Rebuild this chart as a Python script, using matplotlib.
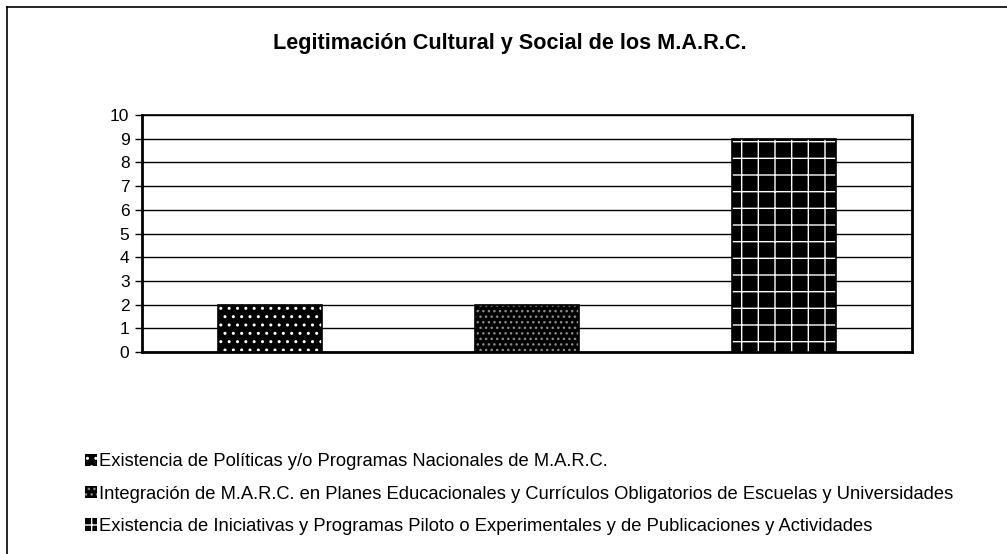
import matplotlib
matplotlib.use("Agg")
import matplotlib.pyplot as plt
from matplotlib.lines import Line2D

plt.rcParams['font.family'] = ['Liberation Sans', 'DejaVu Sans']

title = "Legitimación Cultural y Social de los M.A.R.C."
series_labels = [
    "Existencia de Políticas y/o Programas Nacionales de M.A.R.C.",
    "Integración de M.A.R.C. en Planes Educacionales y Currículos Obligatorios de Escuelas y Universidades",
    "Existencia de Iniciativas y Programas Piloto o Experimentales y de Publicaciones y Actividades",
]
series_values = [2, 2, 9]
y_ticks = list(range(0, 11))

hatches = ['..', '...', '+']
hatch_colors = ['white', '#8a8a8a', 'white']

fig = plt.figure(figsize=(10.07, 5.54), dpi=100)
ax = fig.add_axes([0.141, 0.3646, 0.7646, 0.4278])

plt.rcParams['hatch.linewidth'] = 1.0
handles = []
for i, (lab, val, h, hc) in enumerate(zip(series_labels, series_values,
                                          hatches, hatch_colors)):
    b = ax.bar(i, val, width=0.405, color='black', edgecolor=hc,
               hatch=h, linewidth=0, zorder=3, label=lab)
    ax.bar(i, val, width=0.405, fill=False, edgecolor='black',
           linewidth=1.2, zorder=4)
    handles.append(b)

ax.set_xlim(-0.5, 2.5)
ax.set_ylim(0, 10)
ax.set_yticks(y_ticks)
ax.set_xticks([])
ax.tick_params(axis='y', labelsize=12.5, length=5, width=1, pad=4, colors='black')
ax.yaxis.grid(True, color='black', linewidth=1)
ax.set_axisbelow(True)
for side, lw in {'left': 2, 'bottom': 2, 'top': 1.2, 'right': 2}.items():
    ax.spines[side].set_linewidth(lw)
    ax.spines[side].set_color('black')

fig.text(0.506, 0.922, title, ha='center', va='center', fontsize=15.6,
         fontweight='bold')

leg = fig.legend(handles=handles, labels=series_labels, loc='upper left',
                 bbox_to_anchor=(0.084, 0.182), frameon=False, fontsize=13.2,
                 handlelength=0.65, handleheight=0.65, handletextpad=0.12,
                 labelspacing=0.84, borderaxespad=0, borderpad=0)

# outer frame
fig.add_artist(Line2D([0.007, 0.007], [0.0, 0.987], transform=fig.transFigure,
                      color='black', linewidth=1.2))
fig.add_artist(Line2D([0.007, 1.0], [0.987, 0.987], transform=fig.transFigure,
                      color='black', linewidth=1.2))

fig.savefig("out.png", dpi=100)
